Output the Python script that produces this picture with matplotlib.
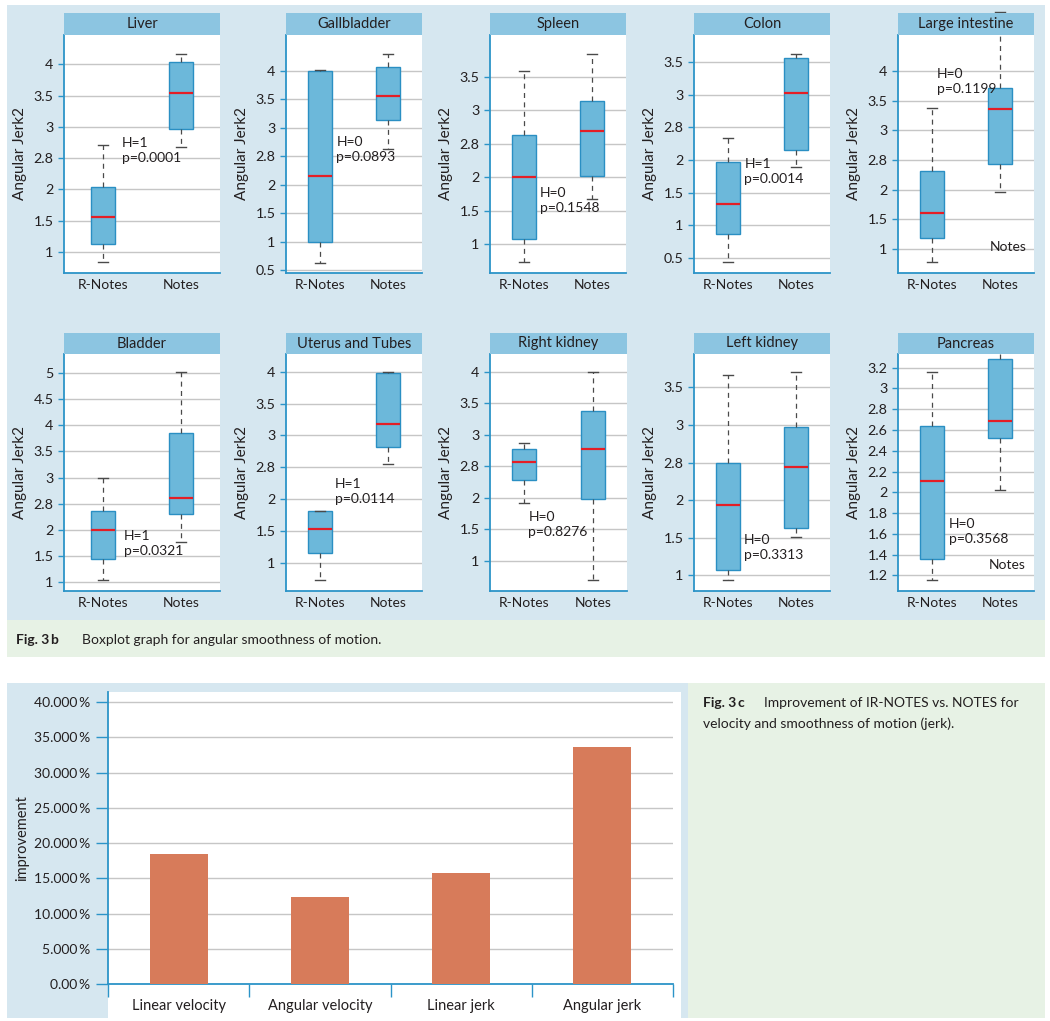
import matplotlib
matplotlib.use('Agg')
import matplotlib.pyplot as plt
from matplotlib.patches import Rectangle

W, H = 1050, 1021
plt.rcParams['font.family'] = ['Lato', 'DejaVu Sans']

BLUE_BG = '#d6e7f0'
GREEN_BG = '#e7f2e5'
BAND = '#8cc5e1'
BOX_FILL = '#6cb8da'
BOX_EDGE = '#2a8fc3'
SPINE = '#2c94c8'
MEDIAN = '#e41e26'
GRID = '#c6c6c6'
TXT = '#231f20'
BAR = '#d77b5a'

# ---------------- data: Fig. 3b ----------------
organs = ["Liver", "Gallbladder", "Spleen", "Colon", "Large intestine",
          "Bladder", "Uterus and Tubes", "Right kidney", "Left kidney", "Pancreas"]
groups = ["R-Notes", "Notes"]
# [whisker low, Q1, median, Q3, whisker high]
r_notes = [
    [0.84, 1.13, 1.555, 2.04, 2.71],
    [0.635, 1.00, 2.16, 4.00, 4.02],
    [0.74, 1.085, 2.004, 2.635, 3.585],
    [0.433, 0.869, 1.326, 1.967, 2.336],
    [0.768, 1.18, 1.61, 2.316, 3.373],
    [1.051, 1.452, 2.00, 2.363, 3.00],
    [0.738, 1.157, 1.529, 1.822, 1.822],
    [1.921, 2.286, 2.566, 2.772, 2.873],
    [0.938, 1.075, 1.941, 2.496, 3.664],
    [1.155, 1.361, 2.11, 2.64, 3.161],
]
notes = [
    [2.676, 2.965, 3.547, 4.04, 4.17],
    [2.63, 3.14, 3.56, 4.07, 4.30],
    [1.676, 2.024, 2.695, 3.137, 3.84],
    [1.885, 2.151, 3.028, 3.572, 3.633],
    [1.955, 2.435, 3.367, 3.723, 5.01],
    [1.771, 2.299, 2.618, 3.847, 5.013],
    [2.545, 2.812, 3.173, 3.974, 4.00],
    [0.698, 1.979, 2.767, 3.381, 4.00],
    [1.511, 1.635, 2.439, 2.972, 3.704],
    [2.023, 2.522, 2.689, 3.28, 3.40],
]
h_values = [1, 0, 0, 1, 0, 1, 1, 0, 0, 0]
p_values = ["0.0001", "0.0893", "0.1548", "0.0014", "0.1199",
            "0.0321", "0.0114", "0.8276", "0.3313", "0.3568"]

t7 = [1, 1.5, 2, 2.5, 3, 3.5, 4]
l7 = ['1', '1.5', '2', '2.8', '3', '3.5', '4']
tick_values = [
    t7,
    [0.5] + t7,
    [1, 1.5, 2, 2.5, 3, 3.5],
    [0.5, 1, 1.5, 2, 2.5, 3, 3.5],
    t7,
    [1, 1.5, 2, 2.5, 3, 3.5, 4, 4.5, 5],
    t7,
    t7,
    [1, 1.5, 2, 2.5, 3, 3.5],
    [1.2, 1.4, 1.6, 1.8, 2.0, 2.2, 2.4, 2.6, 2.8, 3.0, 3.2],
]
tick_labels = [
    l7,
    ['0.5'] + l7,
    ['1', '1.5', '2', '2.8', '3', '3.5'],
    ['0.5', '1', '1.5', '2', '2.8', '3', '3.5'],
    l7,
    ['1', '1.5', '2', '2.8', '3', '3.5', '4', '4.5', '5'],
    l7,
    l7,
    ['1', '1.5', '2', '2.8', '3', '3.5'],
    ['1.2', '1.4', '1.6', '1.8', '2', '2.2', '2.4', '2.6', '2.8', '3', '3.2'],
]

# ---------------- data: Fig. 3c ----------------
bar_categories = ["Linear velocity", "Angular velocity", "Linear jerk", "Angular jerk"]
bar_values = [18.48, 12.34, 15.74, 33.6]
bar_ticks = [0, 5, 10, 15, 20, 25, 30, 35, 40]
bar_tick_labels = ['0.00\u2009%', '5.000\u2009%', '10.000\u2009%', '15.000\u2009%',
                   '20.000\u2009%', '25.000\u2009%', '30.000\u2009%', '35.000\u2009%',
                   '40.000\u2009%']

# ---------------- layout (pixels) ----------------
panel_x = [(64, 220), (286, 422), (490, 626), (694, 830), (898, 1034),
           (64, 220), (286, 422), (490, 627), (694, 830), (898, 1034)]
row_y = [(13, 35, 273), (333, 354, 591)]
ylims = [(0.66, 4.47), (0.453, 4.63), (0.573, 4.12), (0.264, 3.92), (0.588, 4.616),
         (0.834, 5.357), (0.56, 4.277), (0.524, 4.28), (0.791, 3.944), (1.049, 3.332)]
text_pos = [(1.24, 2.615), (1.24, 2.625), (1.23, 1.655), (1.24, 1.825), (1.07, 3.835),
            (1.27, 1.75), (1.22, 2.125), (1.06, 1.58), (1.23, 1.367), (1.25, 1.618)]
stray_notes = {4: (1.855, 1.03), 9: (1.83, 1.296)}


def frac(x0, y0, x1, y1):
    return [x0 / W, 1 - y1 / H, (x1 - x0) / W, (y1 - y0) / H]


fig = plt.figure(figsize=(W / 100, H / 100), dpi=100)


def bg(x0, y0, x1, y1, color):
    fig.add_artist(Rectangle((x0 / W, 1 - y1 / H), (x1 - x0) / W, (y1 - y0) / H,
                             transform=fig.transFigure, facecolor=color,
                             edgecolor='none', zorder=-10))


bg(7, 5, 1045, 620, BLUE_BG)
bg(7, 620, 1045, 657, GREEN_BG)
bg(7, 683, 688, 1018, BLUE_BG)
bg(688, 683, 1045, 1018, GREEN_BG)
bg(108, 692, 681, 1018, 'white')

FS = 10

for i, organ in enumerate(organs):
    x0, x1 = panel_x[i]
    yb, ya, ye = row_y[i // 5]
    ax = fig.add_axes(frac(x0, ya, x1, ye))
    ax.set_facecolor('white')
    width = 24.0 / ((x1 - x0) / 2.0)
    stats = []
    for g, d in zip(groups, [r_notes[i], notes[i]]):
        stats.append(dict(label=g, whislo=d[0], q1=d[1], med=d[2], q3=d[3], whishi=d[4]))
    art = ax.bxp(stats, positions=[1, 2], widths=width, patch_artist=True,
                 showfliers=False, manage_ticks=False, capwidths=width * 0.4,
                 boxprops=dict(facecolor=BOX_FILL, edgecolor=BOX_EDGE, linewidth=1.0),
                 medianprops=dict(color=MEDIAN, linewidth=1.6),
                 whiskerprops=dict(color='#4a4a4a', linestyle=(0, (4, 3.5)), linewidth=0.9),
                 capprops=dict(color='#4a4a4a', linewidth=1.0))
    for key in ('whiskers', 'caps'):
        for a in art[key]:
            a.set_clip_on(False)
    ax.set_xlim(0.5, 2.5)
    ax.set_ylim(*ylims[i])
    ax.set_xticks([1, 2])
    ax.set_xticklabels(groups, fontsize=FS, color=TXT)
    ax.set_yticks(tick_values[i])
    ax.set_yticklabels(tick_labels[i], fontsize=FS + 0.3, color=TXT)
    ax.tick_params(axis='x', length=0, pad=4)
    ax.tick_params(axis='y', length=4.5, width=1, color=SPINE, direction='out', pad=3)
    ax.yaxis.grid(True, color=GRID, linewidth=1)
    ax.set_axisbelow(True)
    for s in ('top', 'right'):
        ax.spines[s].set_visible(False)
    for s in ('left', 'bottom'):
        ax.spines[s].set_color(SPINE)
        ax.spines[s].set_linewidth(1.3)
    ax.set_ylabel('Angular Jerk2', fontsize=11, color=TXT, labelpad=5)
    tx, ty = text_pos[i]
    ax.text(tx, ty, f"H={h_values[i]}\np={p_values[i]}", fontsize=FS, color=TXT,
            ha='left', va='center', linespacing=1.3)
    if i in stray_notes:
        sx, sy = stray_notes[i]
        ax.text(sx, sy, "Notes", fontsize=FS, color=TXT, ha='left', va='center')
    # title band
    tax = fig.add_axes(frac(x0, yb, x1, ya), zorder=3)
    tax.set_facecolor(BAND)
    tax.set_xticks([])
    tax.set_yticks([])
    for s in tax.spines.values():
        s.set_visible(False)
    tax.text(0.5, 0.5, organ, transform=tax.transAxes, ha='center', va='center',
             fontsize=10.5, color=TXT)

# caption 3b
fig.text(16 / W, 1 - 640 / H, 'Fig. 3\u2009b', fontsize=10, fontweight='bold',
         color=TXT, ha='left', va='center')
fig.text(82 / W, 1 - 640 / H, 'Boxplot graph for angular smoothness of motion.',
         fontsize=10, color=TXT, ha='left', va='center')

# ---------------- Fig. 3c bar chart ----------------
bx = fig.add_axes(frac(108, 692, 673, 984))
bx.set_facecolor('none')
pos = list(range(len(bar_categories)))
bx.bar(pos, bar_values, width=0.41, color=BAR, zorder=3)
bx.set_xlim(-0.5, len(bar_categories) - 0.5)
bx.set_ylim(0, 41.42)
bx.set_yticks(bar_ticks)
bx.set_yticklabels(bar_tick_labels, fontsize=FS, color=TXT)
bx.set_xticks([p - 0.5 for p in pos] + [len(pos) - 0.5])
bx.set_xticklabels([])
bx.set_xticks(pos, minor=True)
bx.set_xticklabels(bar_categories, minor=True, fontsize=10.5, color=TXT)
bx.tick_params(axis='x', which='major', length=9, width=1, color=SPINE, direction='out')
bx.tick_params(axis='x', which='minor', length=0, pad=11)
bx.tick_params(axis='y', length=9, width=1, color=SPINE, direction='out', pad=4)
bx.yaxis.grid(True, color=GRID, linewidth=1)
bx.set_axisbelow(True)
for s in ('top', 'right'):
    bx.spines[s].set_visible(False)
for s in ('left', 'bottom'):
    bx.spines[s].set_color(SPINE)
    bx.spines[s].set_linewidth(1.3)
bx.set_ylabel('improvement', fontsize=10.5, color=TXT, labelpad=3)

# caption 3c
fig.text(703 / W, 1 - 703 / H, 'Fig. 3\u2009c', fontsize=10, fontweight='bold',
         color=TXT, ha='left', va='center')
fig.text(764 / W, 1 - 703 / H, 'Improvement of IR-NOTES vs. NOTES for',
         fontsize=10, color=TXT, ha='left', va='center')
fig.text(703 / W, 1 - 724 / H, 'velocity and smoothness of motion (jerk).',
         fontsize=10, color=TXT, ha='left', va='center')

fig.savefig('out.png', dpi=100)
